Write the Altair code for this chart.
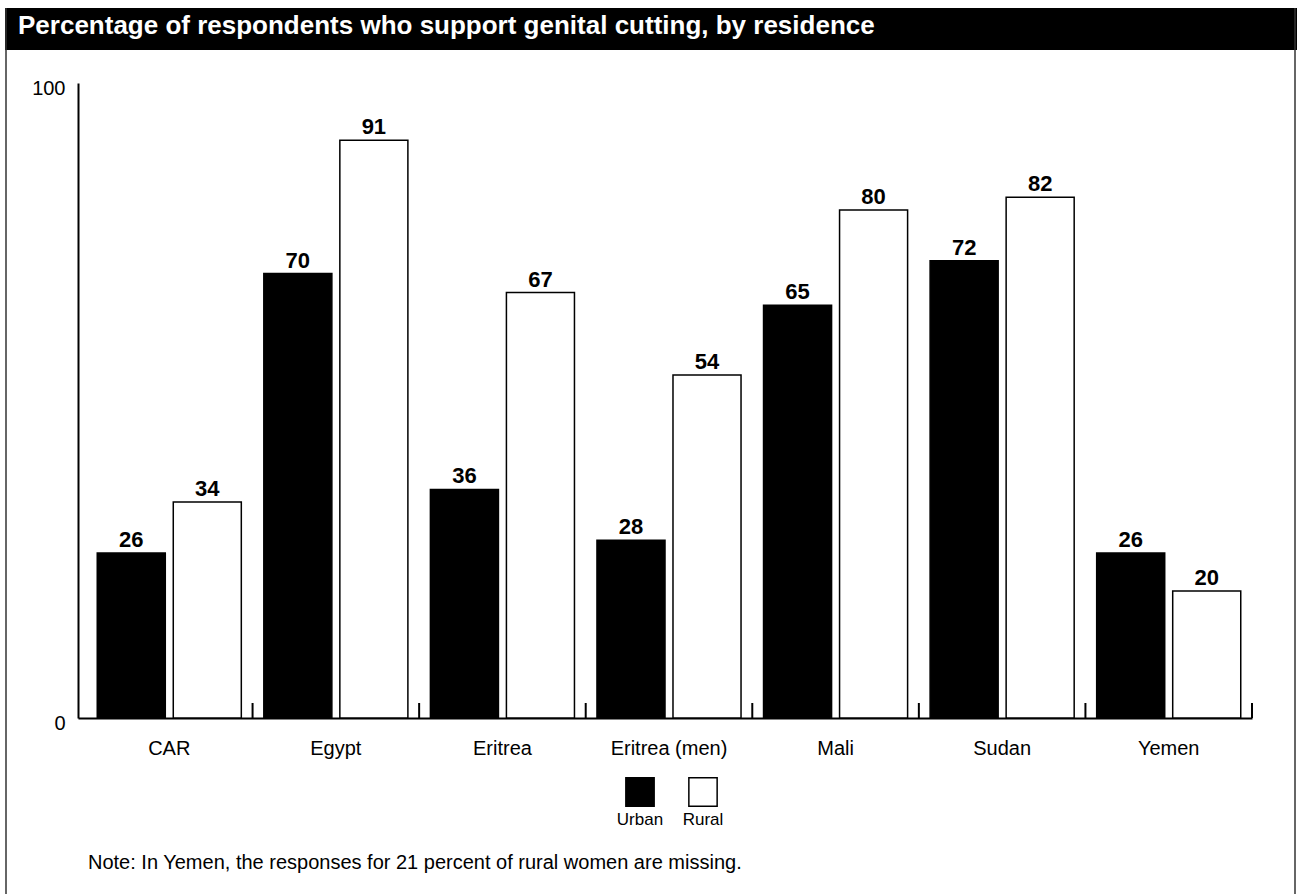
import altair as alt
import pandas as pd

# Survey results: share of respondents supporting genital cutting, by residence
countries = ["CAR", "Egypt", "Eritrea", "Eritrea (men)", "Mali", "Sudan", "Yemen"]
urban = [26, 70, 36, 28, 65, 72, 26]
rural = [34, 91, 67, 54, 80, 82, 20]
series = ["Urban", "Rural"]
series_fill = ["#000000", "#ffffff"]
y_ticks = [0, 100]

title_text = "Percentage of respondents who support genital cutting, by residence"
note_text = "Note: In Yemen, the responses for 21 percent of rural women are missing."

FONT = "Liberation Sans"
W, H = 1174, 635

rows = []
for c, u, r in zip(countries, urban, rural):
    rows.append({"country": c, "series": "Urban", "value": u})
    rows.append({"country": c, "series": "Rural", "value": r})
df = pd.DataFrame(rows)

x_scale = alt.Scale(domain=countries, paddingInner=0, paddingOuter=0.024, align=1)
off_scale = alt.Scale(domain=series, paddingInner=0.105, paddingOuter=0.148)
y_scale = alt.Scale(domain=[0, 100], nice=False)
fill_scale = alt.Scale(domain=series, range=series_fill)

base = alt.Chart(df)

bars = base.mark_bar(stroke="black", strokeWidth=1.5).encode(
    x=alt.X("country:N", scale=x_scale, sort=countries, title=None,
            axis=alt.Axis(labelFontSize=20, labelPadding=20, ticks=False,
                          domainColor="black", domainWidth=2, labelAngle=0,
                          labelColor="black", labelFont=FONT)),
    xOffset=alt.XOffset("series:N", scale=off_scale, sort=series),
    y=alt.Y("value:Q", scale=y_scale, title=None,
            axis=alt.Axis(values=y_ticks, ticks=False, grid=False,
                          labelFontSize=20, labelPadding=13, labelOffset=5,
                          labelBaseline="middle", domainColor="black",
                          domainWidth=2, labelColor="black", labelFont=FONT)),
    fill=alt.Fill("series:N", scale=fill_scale, legend=None),
)

values = base.mark_text(baseline="alphabetic", dy=-6, fontSize=22,
                        fontWeight="bold", font=FONT, color="black").encode(
    x=alt.X("country:N", sort=countries),
    xOffset=alt.XOffset("series:N", sort=series),
    y="value:Q",
    text="value:Q",
)

# short upright ticks closing each country group on the baseline
group_ticks = alt.Chart(pd.DataFrame({"country": countries})).mark_rule(
    color="black", strokeWidth=2).encode(
    x=alt.X("country:N", bandPosition=1, sort=countries),
    y=alt.value(H),
    y2=alt.value(H - 15),
)

plot = alt.layer(bars, group_ticks, values)

# legend: swatches with their names underneath
legend_df = pd.DataFrame({"series": series})
legend_x = alt.X("series:N", sort=series, axis=None,
                 scale=alt.Scale(type="point", domain=series,
                                 range=[562, 625], padding=0))
legend_sq = alt.Chart(legend_df).mark_square(
    size=800, stroke="black", strokeWidth=1.5, opacity=1).encode(
    x=legend_x,
    y=alt.value(709),
    fill=alt.Fill("series:N", scale=fill_scale, legend=None),
)
legend_lbl = alt.Chart(legend_df).mark_text(
    fontSize=17, font=FONT, baseline="middle", color="black").encode(
    x=legend_x,
    y=alt.value(737),
    text="series:N",
)
legend = alt.layer(legend_sq, legend_lbl)

one = alt.Data(values=[{}])
title_bar = alt.Chart(one).mark_rect(color="black").encode(
    x=alt.value(-73), x2=alt.value(W + 45), y=alt.value(-75), y2=alt.value(-33))
title = alt.Chart(one).mark_text(
    text=title_text, align="left", baseline="alphabetic", fontSize=26,
    fontWeight="bold", font=FONT, color="white").encode(
    x=alt.value(-60), y=alt.value(-49))
frame_l = alt.Chart(one).mark_rule(color="#333333", strokeWidth=1.5).encode(
    x=alt.value(-72), y=alt.value(-75), y2=alt.value(H + 176))
frame_r = alt.Chart(one).mark_rule(color="#333333", strokeWidth=1.5).encode(
    x=alt.value(W + 43), y=alt.value(-75), y2=alt.value(H + 176))
note = alt.Chart(one).mark_text(
    text=note_text, align="left", baseline="middle", fontSize=20,
    font=FONT, color="black").encode(x=alt.value(10), y=alt.value(780))

chart = alt.layer(
    plot, legend, title_bar, title, frame_l, frame_r, note
).resolve_scale(x="independent").properties(
    width=W, height=H,
    padding={"left": 78, "top": 83, "right": 45, "bottom": 176},
    autosize="none",
    background="white",
).configure_view(strokeWidth=0)

chart.save("out.html", embed_options={"renderer": "svg", "actions": False})
